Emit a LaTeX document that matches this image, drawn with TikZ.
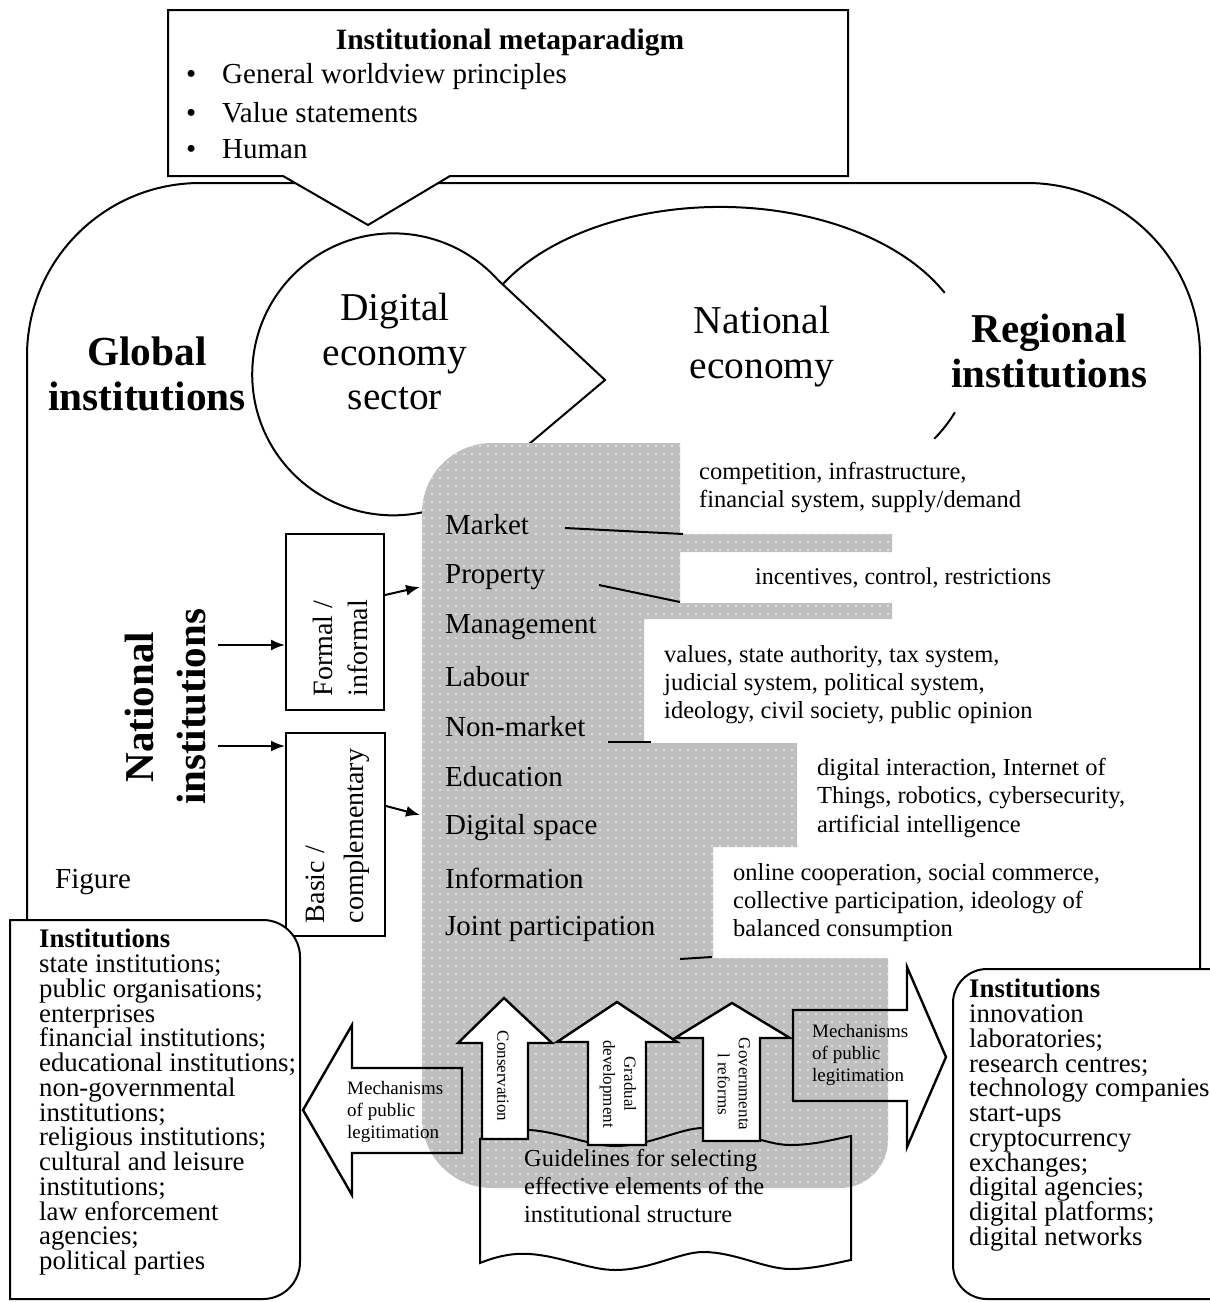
\documentclass[tikz,border=0pt]{standalone}
\usepackage{fontspec}
\setmainfont{Liberation Serif}
\usetikzlibrary{arrows.meta,patterns.meta}
\newcommand\myfs[2]{\fontsize{#1}{#2}\selectfont}
\begin{document}
\begin{tikzpicture}[x=1pt,y=-1pt,
  ln/.style={line width=2pt},
  arrline/.style={line width=2pt,-{Latex[length=14pt,width=11pt]}},
  bigarrow/.style={line width=2.4pt,line join=miter},
  txt/.style={inner sep=0pt,align=left},
  item/.style={anchor=west,inner sep=0pt,font=\myfs{29}{34}},
  rtxt/.style={anchor=north west,inner sep=0pt,align=left,font=\myfs{24.5}{28.3}},
  boxtxt/.style={anchor=north west,inner sep=0pt,align=left,font=\myfs{26.8}{24.75}},
  smalltxt/.style={anchor=north west,inner sep=0pt,align=left,font=\myfs{19}{22.3}},
  uptxt/.style={rotate=-90,inner sep=0pt,align=center,font=\myfs{17}{21}},
  greyfill/.style={fill=black!25,postaction={pattern={Dots[distance=8pt,radius=0.9pt]},pattern color=white}}
]
\useasboundingbox (0,0) rectangle (1210,1302);
\fill[white] (0,0) rectangle (1210,1302);

% outer shape (global / regional institutions)
\draw[ln] (27,1000) -- (27,356) arc[start angle=180,end angle=270,radius=173]
  -- (1027,183) arc[start angle=270,end angle=360,radius=173] -- (1200,1000);

% national economy ellipse (two arcs with a gap)
\draw[ln] (493.4,295.3) arc[start angle=-155,end angle=-26,x radius=250,y radius=153];
\draw[ln] (954.9,412.3) arc[start angle=20,end angle=31,x radius=250,y radius=153];

% digital economy bubble
\draw[ln,fill=white,line join=miter] (605,380) -- (498,280) arc[start angle=-42,end angle=-313,radius=141] -- cycle;

% grey region
\path[greyfill] (422,513) arc[start angle=180,end angle=270,radius=70]
  -- (680,443) -- (680,534) -- (892,534) -- (892,552) -- (680,552) -- (680,603)
  -- (892,603) -- (892,619) -- (644,619) -- (644,743) -- (797,743) -- (797,847)
  -- (713,847) -- (713,958) -- (888,958) -- (888,1140)
  arc[start angle=0,end angle=90,radius=48] -- (492,1188)
  arc[start angle=90,end angle=180,radius=70] -- cycle;

% callout
\draw[ln,fill=white,line join=miter] (168,10) -- (848,10) -- (848,176) -- (450,176)
  -- (368,225) -- (283,176) -- (168,176) -- cycle;
\node[font=\myfs{29.5}{34}\bfseries,inner sep=0pt] (meta) at (510,43) {Institutional metaparadigm};
\node[anchor=west,inner sep=0pt,font=\myfs{29}{34}] (b1) at (186,77) {\makebox[36pt][l]{\textbullet}General worldview principles};
\node[anchor=west,inner sep=0pt,font=\myfs{29}{34}] (b2) at (186,113) {\makebox[36pt][l]{\textbullet}Value statements};
\node[anchor=west,inner sep=0pt,font=\myfs{29}{34}] (b3) at (186,149) {\makebox[36pt][l]{\textbullet}Human};

% big labels
\node[align=center,inner sep=0pt,font=\myfs{41.3}{45}\bfseries] (global) at (147,374) {Global\\institutions};
\node[align=center,inner sep=0pt,font=\myfs{41}{45}\bfseries] (regional) at (1049,351) {Regional\\institutions};
\node[align=center,inner sep=0pt,font=\myfs{39.4}{44.5}] (digital) at (395,352) {Digital\\economy\\sector};
\node[align=center,inner sep=0pt,font=\myfs{39.5}{45}] (nateco) at (762,347) {National\\economy};
\node[rotate=90,align=center,inner sep=0pt,font=\myfs{41}{52}\bfseries] (natinst) at (166,707) {National\\institutions};
\node[anchor=west,inner sep=0pt,font=\myfs{29}{34}] (figure) at (55,882) {Figure};

% formal / basic boxes
\node[ln,draw,fill=white,minimum width=98pt,minimum height=176pt,inner sep=0pt] (formal) at (335,622) {};
\node[rotate=90,txt,font=\myfs{28}{35}] (formaltxt) at (340,648) {Formal /\\informal};
\node[ln,draw,fill=white,minimum width=99pt,minimum height=203pt,inner sep=0pt] (basic) at (335.5,834.5) {};
\node[rotate=90,txt,font=\myfs{28}{39}] (basictxt) at (338,836) {Basic /\\complementary};

\coordinate (n1) at (218,645);
\coordinate (n2) at (218,746);
\coordinate (g1) at (420,587);
\coordinate (g2) at (420,815);
\draw[arrline] (n1) -- (n1 -| formal.west);
\draw[arrline] (n2) -- (n2 -| basic.west);
\draw[arrline] ([yshift=27pt]formal.east) -- (g1);
\draw[arrline] ([yshift=28.5pt]basic.east) -- (g2);

% list items
\node[item] (market) at (445,525) {Market};
\node[item] (property) at (445,577) {Property};
\node[item] (management) at (445,627) {Management};
\node[item] (labour) at (445,677) {Labour};
\node[item] (nonmarket) at (445,727) {Non-market};
\node[item] (education) at (445,777) {Education};
\node[item] (dspace) at (445,828) {Digital space};
\node[item] (information) at (445,878) {Information};
\node[item] (joint) at (445,929) {Joint participation};

% descriptions
\node[rtxt] (compet) at (699,462) {competition, infrastructure,\\financial system, supply/demand};
\node[anchor=west,inner sep=0pt,font=\myfs{24}{28}] (incent) at (755,578) {incentives, control, restrictions};
\node[rtxt] (values) at (664,645) {values, state authority, tax system,\\judicial system, political system,\\ideology, civil society, public opinion};
\node[rtxt] (digint) at (817,758) {digital interaction, Internet of\\Things, robotics, cybersecurity,\\artificial intelligence};
\node[rtxt] (online) at (733,863) {online cooperation, social commerce,\\collective participation, ideology of\\balanced consumption};

% connectors
\coordinate (mk1) at (565,528);  \coordinate (mk2) at (683,534);
\coordinate (pr1) at (599,585);  \coordinate (pr2) at (680,602);
\coordinate (nm1) at (608,742);  \coordinate (nm2) at (651,742);
\coordinate (jp1) at (680,959);  \coordinate (jp2) at (712,957);
\draw[ln] (mk1) -- (mk2);
\draw[ln] (pr1) -- (pr2);
\draw[ln] (nm1) -- (nm2);
\draw[ln] (jp1) -- (jp2);

% institutions boxes
\draw[ln,fill=white] (10,920) -- (263,920) arc[start angle=270,end angle=360,radius=37]
  -- (300,1262) arc[start angle=0,end angle=90,radius=37] -- (10,1299) -- cycle;
\node[boxtxt] (linst) at (39,929) {\textbf{Institutions}\\state institutions;\\public organisations;\\enterprises\\financial institutions;\\educational institutions;\\non-governmental\\institutions;\\religious institutions;\\cultural and leisure\\institutions;\\law enforcement\\agencies;\\political parties};

\draw[ln,fill=white] (1215,969) -- (987,969) arc[start angle=270,end angle=180,radius=34]
  -- (953,1265) arc[start angle=180,end angle=90,radius=34] -- (1215,1299);
\node[boxtxt] (rinst) at (969,979) {\textbf{Institutions}\\innovation\\laboratories;\\research centres;\\technology companies\\start-ups\\cryptocurrency\\exchanges;\\digital agencies;\\digital platforms;\\digital networks};

% guidelines wavy box
\draw[ln] (480,1139) .. controls (500,1131) and (515,1129) .. (530,1130)
  .. controls (560,1132) and (590,1146) .. (615,1146)
  .. controls (650,1146) and (680,1128) .. (703,1128)
  .. controls (735,1128) and (765,1145) .. (790,1145)
  .. controls (815,1145) and (835,1139) .. (851,1136)
  -- (851,1260)
  .. controls (835,1263) and (815,1269) .. (790,1269)
  .. controls (765,1269) and (735,1252) .. (703,1252)
  .. controls (680,1252) and (650,1270) .. (615,1270)
  .. controls (590,1270) and (560,1256) .. (530,1254)
  .. controls (515,1253) and (500,1255) .. (480,1263) -- cycle;
\node[anchor=north west,inner sep=0pt,align=left,font=\myfs{24.4}{28}] (guide) at (524,1149) {Guidelines for selecting\\effective elements of the\\institutional structure};

% up arrows
\draw[bigarrow,fill=white] (482,1139) -- (482,1043) -- (458,1043) -- (504,998) -- (552,1043) -- (528,1043) -- (528,1139) -- cycle;
\draw[bigarrow,fill=white] (588,1145) -- (588,1042) -- (557,1042) -- (617,1002) -- (677,1042) -- (646,1042) -- (646,1145) -- cycle;
\draw[bigarrow,fill=white] (703,1141) -- (703,1038) -- (675,1038) -- (732,1003) -- (790,1038) -- (760,1038) -- (760,1141) -- cycle;
\node[uptxt] (cons) at (503,1076) {Conservation};
\node[uptxt] (grad) at (618,1084) {Gradual\\development};
\node[uptxt] (gov) at (734,1084) {Governmenta\\l reforms};

% side arrows
\draw[bigarrow] (462,1068) -- (352,1068) -- (352,1025) -- (303,1110) -- (352,1195) -- (352,1153) -- (462,1153) -- cycle;
\node[smalltxt] (lmech) at (347,1081) {Mechanisms\\of public\\legitimation};
\draw[bigarrow] (793,1010) -- (907,1010) -- (907,967) -- (946,1057) -- (907,1147) -- (907,1101) -- (793,1101) -- cycle;
\node[smalltxt] (rmech) at (812,1024) {Mechanisms\\of public\\legitimation};
\end{tikzpicture}
\end{document}
